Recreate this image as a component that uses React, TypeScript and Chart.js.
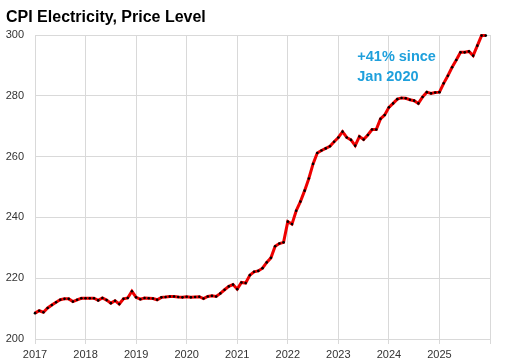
import React, { useEffect, useRef } from 'react';
import { Chart, registerables } from 'chart.js';

Chart.register(...registerables);

const yearLabels = ['2017', '2018', '2019', '2020', '2021', '2022', '2023', '2024', '2025'];

const cpi2017 = [208.5, 209.3, 208.8, 210.2, 211.2, 212.1, 212.9, 213.2, 213.2, 212.3, 212.9, 213.4];
const cpi2018 = [213.4, 213.4, 213.4, 212.7, 213.5, 212.8, 211.8, 212.6, 211.5, 213.2, 213.5, 215.7];
const cpi2019 = [213.7, 213.1, 213.5, 213.4, 213.3, 212.9, 213.7, 213.8, 214.0, 214.0, 213.8, 213.7];
const cpi2020 = [213.9, 213.7, 213.8, 213.9, 213.3, 214.0, 214.2, 214.0, 215.0, 216.2, 217.3, 217.9];
const cpi2021 = [216.4, 218.6, 218.4, 221.0, 222.1, 222.4, 223.3, 225.2, 226.7, 230.5, 231.4, 231.8];
const cpi2022 = [238.6, 237.8, 242.2, 245.2, 248.8, 252.8, 257.6, 261.2, 262.0, 262.7, 263.4, 264.9];
const cpi2023 = [266.3, 268.2, 266.3, 265.5, 263.6, 266.6, 265.6, 267.1, 268.9, 268.9, 272.4, 273.7];
const cpi2024 = [276.2, 277.5, 278.9, 279.3, 279.2, 278.7, 278.4, 277.5, 279.6, 281.2, 280.8, 281.1];
const cpi2025 = [281.2, 284.1, 286.6, 289.4, 291.8, 294.3, 294.3, 294.6, 293.2, 296.5, 299.8, 299.8];

const yMin = 200;
const yMax = 300;
const yStep = 20;

const titleText = 'CPI Electricity, Price Level';
const annotationLines = ['+41% since', 'Jan 2020'];
// anchor of the annotation in data space (month index, value)
const annotationAnchor = { month: 76.5, value: 291.6 };

const FONT = '"Liberation Sans", Arial, sans-serif';

export default function App() {
  const ref = useRef<HTMLCanvasElement>(null);

  useEffect(() => {
    if (!ref.current) return;
    const values = [
      ...cpi2017, ...cpi2018, ...cpi2019, ...cpi2020, ...cpi2021,
      ...cpi2022, ...cpi2023, ...cpi2024, ...cpi2025,
    ];
    const points = values.map((v, i) => ({ x: i, y: v }));

    const annotationPlugin = {
      id: 'annotationText',
      afterDatasetsDraw(chart: any) {
        const { ctx, scales } = chart;
        const x = scales.x.getPixelForValue(annotationAnchor.month);
        const y = scales.y.getPixelForValue(annotationAnchor.value);
        ctx.save();
        ctx.font = `bold 14.5px ${FONT}`;
        ctx.fillStyle = '#1FA0DC';
        ctx.textAlign = 'left';
        ctx.textBaseline = 'alphabetic';
        annotationLines.forEach((t, i) => ctx.fillText(t, x, y + i * 20));
        ctx.restore();
      },
    };

    const chart = new Chart(ref.current, {
      type: 'line',
      data: {
        datasets: [
          {
            data: points,
            borderColor: '#EE0000',
            borderWidth: 3,
            pointRadius: 1.3,
            pointBackgroundColor: '#000000',
            pointBorderWidth: 0,
            pointHoverRadius: 0,
            tension: 0,
            fill: false,
            clip: 6,
          },
        ],
      },
      options: {
        responsive: false,
        animation: false,
        events: [],
        layout: { padding: { left: 6, right: 19, top: 0, bottom: 0 } },
        plugins: {
          legend: { display: false },
          tooltip: { enabled: false },
          title: {
            display: true,
            text: titleText,
            align: 'start',
            color: '#000000',
            font: { family: FONT, size: 16, weight: 'bold' },
            padding: { top: 7.7, bottom: 8.1 },
          },
        },
        scales: {
          x: {
            type: 'linear',
            min: 0,
            max: yearLabels.length * 12,
            ticks: {
              stepSize: 12,
              autoSkip: false,
              maxRotation: 0,
              padding: 4,
              color: '#333333',
              font: { family: FONT, size: 11 },
              callback: (v: any) => {
                const idx = Math.round(Number(v) / 12);
                return yearLabels[idx] ?? '';
              },
            },
            grid: { color: '#d9d9d9', drawTicks: true, tickLength: 5 },
            border: { color: '#d9d9d9' },
            afterFit: (s: any) => {
              s.height = 25;
            },
          },
          y: {
            min: yMin,
            max: yMax,
            ticks: {
              stepSize: yStep,
              padding: 11,
              color: '#333333',
              font: { family: FONT, size: 11 },
            },
            grid: { color: '#d9d9d9', drawTicks: false },
            border: { color: '#d9d9d9' },
            afterFit: (s: any) => {
              s.width = 29;
            },
          },
        },
      },
      plugins: [annotationPlugin],
    } as any);

    return () => chart.destroy();
  }, []);

  return (
    <div style={{ position: 'absolute', left: 0, top: 0, width: 509, height: 364, background: '#fff' }}>
      <canvas ref={ref} width={509} height={364} style={{ width: 509, height: 364, display: 'block' }} />
    </div>
  );
}
